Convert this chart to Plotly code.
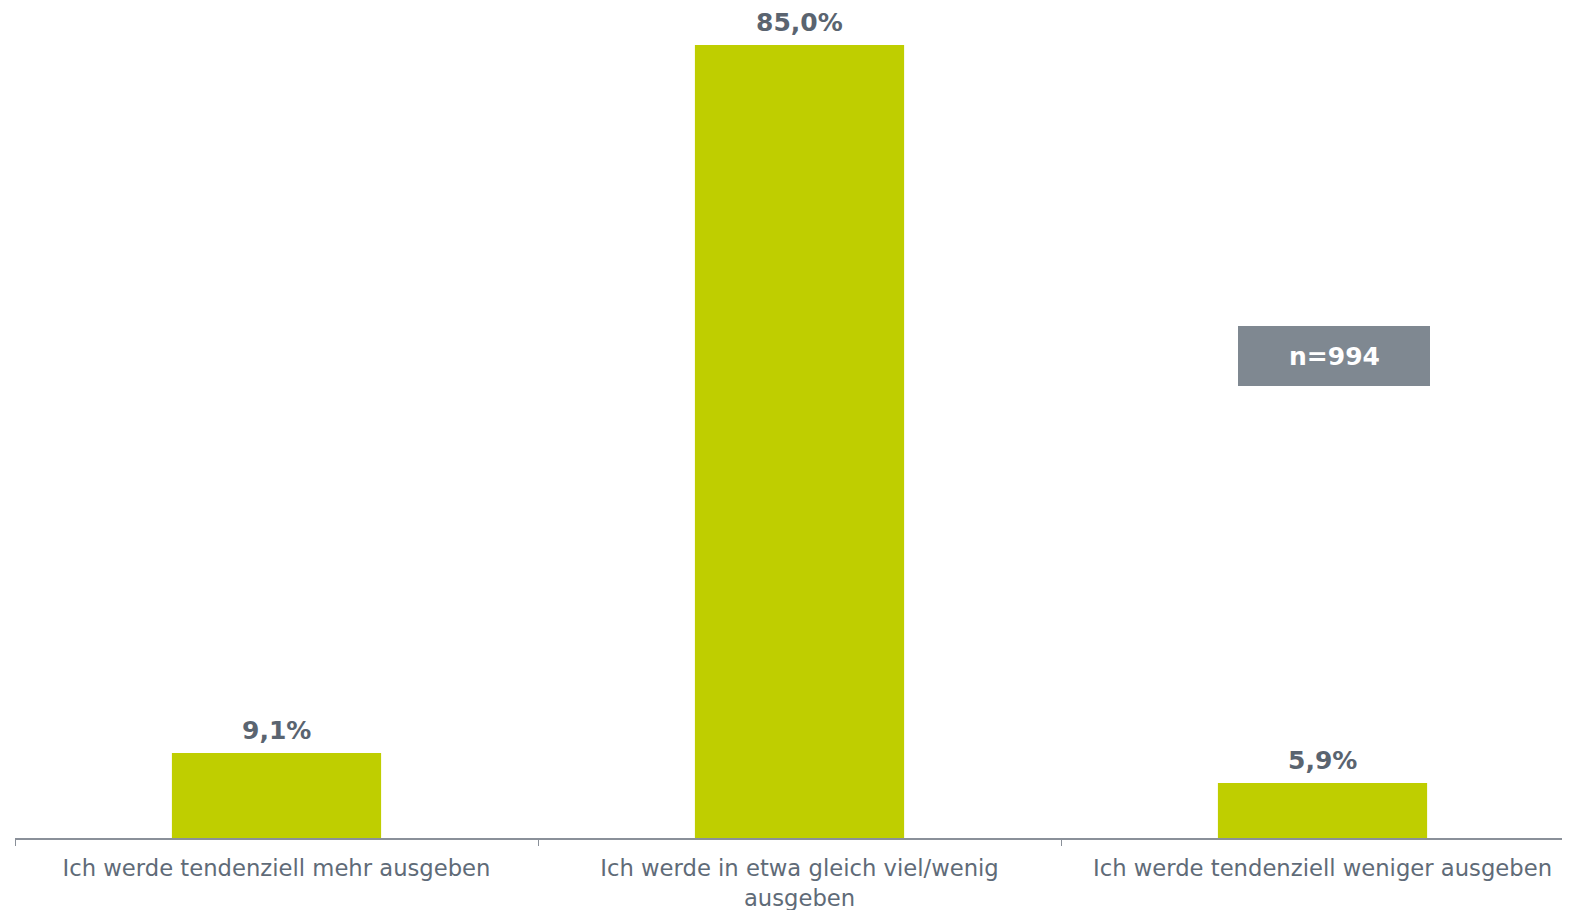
import plotly.graph_objects as go

categories = [
    "Ich werde tendenziell mehr ausgeben",
    "Ich werde in etwa gleich viel/wenig<br>ausgeben",
    "Ich werde tendenziell weniger ausgeben",
]
values = [9.1, 85.0, 5.9]
value_labels = ["9,1%", "85,0%", "5,9%"]
note_text = "n=994"

fig = go.Figure()
fig.add_trace(go.Bar(
    x=categories,
    y=values,
    width=0.4,
    marker=dict(color="#BFCE00", line=dict(width=0)),
    hoverinfo="skip",
))

for cat, val, lab in zip(categories, values, value_labels):
    fig.add_annotation(x=cat, y=val, text="<b>" + lab + "</b>", showarrow=False,
                       xanchor="center", yanchor="bottom", yshift=6,
                       font=dict(family="DejaVu Sans", size=25, color="#5A6470"))

PW = 1563.0
fig.add_shape(type="rect", xref="paper", yref="paper",
              x0=(1238 - 15) / PW, x1=(1430 - 15) / PW,
              y0=1 - 378 / 830, y1=1 - 318 / 830,
              fillcolor="#7F8891", line=dict(width=0), layer="above")
fig.add_annotation(xref="paper", yref="paper",
                   x=(1334 - 15) / PW, y=1 - 348 / 830,
                   xanchor="center", yanchor="middle",
                   text="<b>" + note_text + "</b>", showarrow=False,
                   font=dict(family="DejaVu Sans", size=25, color="white"))

fig.update_layout(
    width=1570, height=910,
    margin=dict(l=7, r=0, t=0, b=80),
    paper_bgcolor="white", plot_bgcolor="white",
    showlegend=False,
    font=dict(family="DejaVu Sans", color="#5F6B78"),
)
fig.update_xaxes(
    type="category",
    range=[-0.5, 2.4885],
    showline=True, linecolor="#8A9099", linewidth=1.5,
    ticks="outside", tickson="boundaries", ticklen=6, tickcolor="#8A9099",
    tickfont=dict(family="DejaVu Sans", size=22.7, color="#5F6B78"),
    ticklabelstandoff=9,
    showgrid=False,
)
fig.update_yaxes(range=[0, 88.96], visible=False, showgrid=False, zeroline=False)

fig.write_html("out.html")
